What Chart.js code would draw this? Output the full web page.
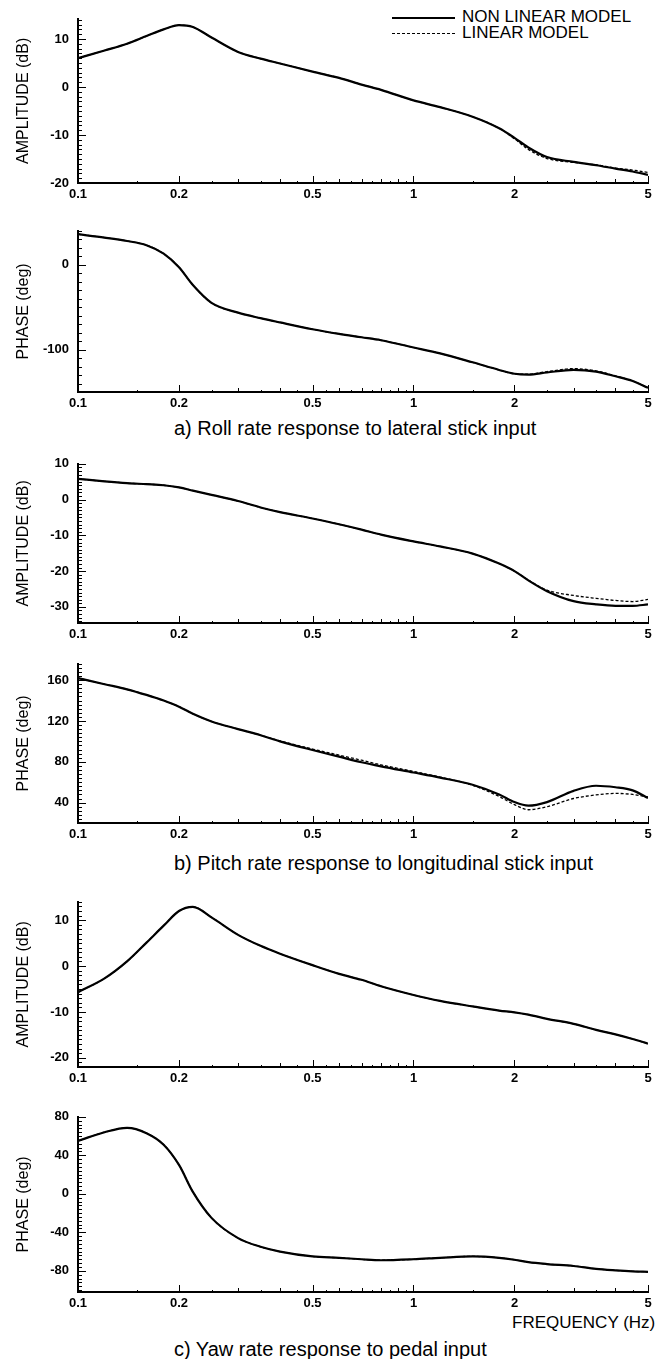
<!DOCTYPE html>
<html>
<head>
<meta charset="utf-8">
<script src="https://cdn.jsdelivr.net/npm/chart.js@4.4.1/dist/chart.umd.min.js"></script>
<style>
  body { margin: 0; background: #fff; width: 663px; height: 1359px; position: relative; overflow: hidden;
         font-family: "Liberation Sans", Arial, sans-serif; color: #000; }
  canvas { position: absolute; left: 0; }
  .cap { position: absolute; left: 174px; font-size: 20px; line-height: 22px; white-space: nowrap; }
  .freq { position: absolute; left: 512px; top: 1313px; font-size: 17px; line-height: 20px; white-space: nowrap; }
  .legend { position: absolute; left: 392px; font-size: 17px; line-height: 18px; white-space: nowrap; }
  .legend span { display: inline-block; width: 63px; margin-right: 7px; vertical-align: middle; }
</style>
</head>
<body>

<div class="legend" style="top:8px"><span style="border-top:2px solid #000"></span>NON LINEAR MODEL</div>
<div class="legend" style="top:24px"><span style="border-top:1.5px dashed #000"></span>LINEAR MODEL</div>
<div class="cap" style="top:417px">a) Roll rate response to lateral stick input</div>
<div class="cap" style="top:852px">b) Pitch rate response to longitudinal stick input</div>
<div class="freq">FREQUENCY (Hz)</div>
<div class="cap" style="top:1338px">c) Yaw rate response to pedal input</div>

<script>
// frequency points (Hz) shared by all curves
const freqs = [0.1, 0.12, 0.14, 0.16, 0.18, 0.2, 0.22, 0.25, 0.3, 0.35, 0.4, 0.5, 0.6, 0.7, 0.8,
               1, 1.2, 1.5, 1.8, 2, 2.2, 2.5, 3, 3.5, 4, 4.5, 5];
const xTickValues = [0.1, 0.2, 0.5, 1, 2, 5];

// a) roll rate / lateral stick
const ampA_nl  = [6.0, 7.6, 9.0, 10.6, 12.0, 12.9, 12.5, 10.3, 7.3, 5.9, 4.9, 3.2, 1.9, 0.5, -0.6,
                  -2.8, -4.2, -6.2, -8.6, -10.6, -12.6, -14.6, -15.6, -16.3, -17.0, -17.6, -18.3];
const ampA_lin = [6.0, 7.6, 9.0, 10.6, 12.0, 12.9, 12.5, 10.3, 7.3, 5.9, 4.9, 3.2, 1.9, 0.5, -0.6,
                  -2.8, -4.2, -6.2, -8.6, -10.8, -13.0, -14.9, -15.7, -16.2, -16.9, -17.3, -17.8];
const phaseA_nl  = [36, 32, 28, 23, 13, -3, -24, -45, -56.5, -63, -68, -76, -81.5, -85.5, -89,
                    -97.5, -104.5, -115, -124, -128.5, -129.5, -127, -124, -126, -131.5, -137, -145];
const phaseA_lin = [36, 32, 28, 23, 13, -3, -24, -45, -56.5, -63, -68, -76, -81.5, -85.5, -89,
                    -97.5, -104.5, -115, -124, -128.5, -129, -126, -122.5, -125, -131, -137, -145];
const ampATicks = [-20, -10, 0, 10];
const phaseATicks = [-100, 0];

// b) pitch rate / longitudinal stick
const ampB_nl  = [5.8, 5.1, 4.6, 4.3, 4.0, 3.4, 2.5, 1.3, -0.4, -2.2, -3.5, -5.3, -6.9, -8.4, -9.8,
                  -11.7, -13.1, -15.1, -17.9, -20.0, -22.6, -25.6, -28.4, -29.3, -29.7, -29.7, -29.3];
const ampB_lin = [5.8, 5.1, 4.6, 4.3, 4.0, 3.4, 2.5, 1.3, -0.4, -2.2, -3.5, -5.3, -6.9, -8.4, -9.8,
                  -11.7, -13.1, -15.1, -17.9, -20.0, -22.5, -25.3, -26.8, -27.6, -28.2, -28.5, -27.9];
const phaseB_nl  = [162, 156, 151, 145.5, 140, 134, 127, 119.5, 112, 106, 100, 91.5, 85, 79.5, 75.5,
                    69.5, 64.5, 57.5, 48, 40.5, 37, 40.5, 51.5, 56.5, 55, 52, 44.5];
const phaseB_lin = [162, 156, 151, 145.5, 140, 134, 127, 119.5, 112, 106, 100.5, 92.5, 86.5, 81.5, 77,
                    70.5, 65, 57, 46, 38, 33, 36, 44, 47.5, 49, 48, 45.5];
const ampBTicks = [-30, -20, -10, 0, 10];
const phaseBTicks = [40, 80, 120, 160];

// c) yaw rate / pedal
const ampC_nl  = [-5.7, -2.7, 1.0, 5.1, 8.8, 12.0, 12.9, 10.6, 6.8, 4.4, 2.7, 0.2, -1.7, -3.0, -4.4,
                  -6.3, -7.6, -8.8, -9.7, -10.1, -10.6, -11.5, -12.6, -13.9, -14.9, -15.9, -16.9];
const ampC_lin = [-5.7, -2.7, 1.0, 5.1, 8.8, 12.0, 12.9, 10.6, 6.8, 4.4, 2.7, 0.2, -1.7, -3.0, -4.4,
                  -6.3, -7.6, -8.8, -9.7, -10.1, -10.6, -11.5, -12.6, -13.9, -14.9, -15.9, -16.9];
const phaseC_nl  = [55, 64, 68.5, 63, 51, 30, 2, -25, -46, -55, -60, -65, -66.5, -68, -69,
                    -68, -66.5, -65, -66.5, -68.5, -71, -73, -75, -78, -79.5, -80.5, -81];
const phaseC_lin = [55, 64, 68.5, 63, 51, 30, 2, -25, -46, -55, -60, -65, -66.5, -68, -69,
                    -68, -66.5, -65, -66.5, -68.5, -71, -73, -75, -78, -79.5, -80.5, -81];
const ampCTicks = [-20, -10, 0, 10];
const phaseCTicks = [-80, -40, 0, 40, 80];

// panel placement (plot area top/bottom in page pixels) and axis ranges
const panels = [
  { top: 12,   bottom: 183,  min: -20,  max: 14.2, step: 1,  ticks: ampATicks,   title: 'AMPLITUDE (dB)', nl: ampA_nl,   lin: ampA_lin },
  { top: 224,  bottom: 392,  min: -150, max: 40,   step: 10, ticks: phaseATicks, title: 'PHASE (deg)',    nl: phaseA_nl, lin: phaseA_lin },
  { top: 457,  bottom: 623,  min: -34.5,max: 10,   step: 1,  ticks: ampBTicks,   title: 'AMPLITUDE (dB)', nl: ampB_nl,   lin: ampB_lin },
  { top: 657,  bottom: 823,  min: 20,   max: 176,  step: 4,  ticks: phaseBTicks, title: 'PHASE (deg)',    nl: phaseB_nl, lin: phaseB_lin },
  { top: 895,  bottom: 1067, min: -22,  max: 14,   step: 1,  ticks: ampCTicks,   title: 'AMPLITUDE (dB)', nl: ampC_nl,   lin: ampC_lin },
  { top: 1110, bottom: 1292, min: -102, max: 80,   step: 4,  ticks: phaseCTicks, title: 'PHASE (deg)',    nl: phaseC_nl, lin: phaseC_lin }
];

const PAD_TOP = 10, X_AXIS_H = 28, Y_AXIS_W = 78;
const tickFont = { family: '"Liberation Sans", Arial, sans-serif', size: 13, weight: 'bold' };

// inward tick marks on the left and bottom axes
const inwardTicks = {
  id: 'inwardTicks',
  afterDraw(chart, args, opts) {
    const { ctx, chartArea, scales } = chart;
    const x = scales.x, y = scales.y;
    ctx.save();
    ctx.strokeStyle = '#000';
    ctx.lineWidth = 1;
    ctx.beginPath();
    const n0 = Math.ceil(y.min / opts.step), n1 = Math.floor(y.max / opts.step);
    for (let n = n0; n <= n1; n++) {
      const v = n * opts.step;
      const py = Math.round(y.getPixelForValue(v)) + 0.5;
      const len = opts.major.includes(v) ? 8 : 4;
      ctx.moveTo(chartArea.left, py);
      ctx.lineTo(chartArea.left + len, py);
    }
    for (let d = 0.1; d < 10; d *= 10) {
      for (let m = 1; m < 10; m += 0.5) {
        const v = m * d;
        if (v < x.min - 1e-9 || v > x.max + 1e-9) continue;
        const px = Math.round(x.getPixelForValue(v)) + 0.5;
        let len = Number.isInteger(m) ? 4 : 2;
        if (xTickValues.some(t => Math.abs(t - v) < 1e-9)) len = 7;
        ctx.moveTo(px, chartArea.bottom);
        ctx.lineTo(px, chartArea.bottom - len);
      }
    }
    ctx.stroke();
    ctx.restore();
  }
};

function makePanel(p, i) {
  const canvas = document.createElement('canvas');
  const h = (p.bottom - p.top) + PAD_TOP + X_AXIS_H;
  canvas.width = 663;
  canvas.height = h;
  canvas.style.top = (p.top - PAD_TOP) + 'px';
  canvas.id = 'panel' + i;
  document.body.appendChild(canvas);

  new Chart(canvas.getContext('2d'), {
    type: 'line',
    data: {
      labels: freqs,
      datasets: [
        { label: 'NON LINEAR MODEL', data: freqs.map((f, k) => ({ x: f, y: p.nl[k] })),
          borderColor: '#000', borderWidth: 2.2, pointRadius: 0, cubicInterpolationMode: 'monotone', fill: false },
        { label: 'LINEAR MODEL', data: freqs.map((f, k) => ({ x: f, y: p.lin[k] })),
          borderColor: '#000', borderWidth: 1.3, borderDash: [3, 2], pointRadius: 0, cubicInterpolationMode: 'monotone', fill: false }
      ]
    },
    options: {
      responsive: false,
      animation: false,
      layout: { padding: { top: PAD_TOP, right: 15, left: 0, bottom: 0 } },
      plugins: {
        legend: { display: false },
        tooltip: { enabled: false },
        inwardTicks: { step: p.step, major: p.ticks }
      },
      scales: {
        x: {
          type: 'logarithmic', min: 0.1, max: 5,
          grid: { display: false, drawTicks: false },
          border: { display: true, color: '#000', width: 2 },
          afterBuildTicks: s => { s.ticks = xTickValues.map(v => ({ value: v })); },
          afterFit: s => { s.height = X_AXIS_H; },
          ticks: { color: '#000', font: tickFont, padding: 4, autoSkip: false, maxRotation: 0,
                   callback: v => String(v) }
        },
        y: {
          min: p.min, max: p.max,
          grid: { display: false, drawTicks: false },
          border: { display: true, color: '#000', width: 2 },
          afterBuildTicks: s => { s.ticks = p.ticks.map(v => ({ value: v })); },
          afterFit: s => { s.width = Y_AXIS_W; },
          ticks: { color: '#000', font: tickFont, padding: 9, autoSkip: false },
          title: { display: true, text: p.title, color: '#000', padding: { top: 14, bottom: 0 },
                   font: { family: '"Liberation Sans", Arial, sans-serif', size: 16 } }
        }
      }
    },
    plugins: [inwardTicks]
  });
}

panels.forEach(makePanel);
</script>
</body>
</html>
